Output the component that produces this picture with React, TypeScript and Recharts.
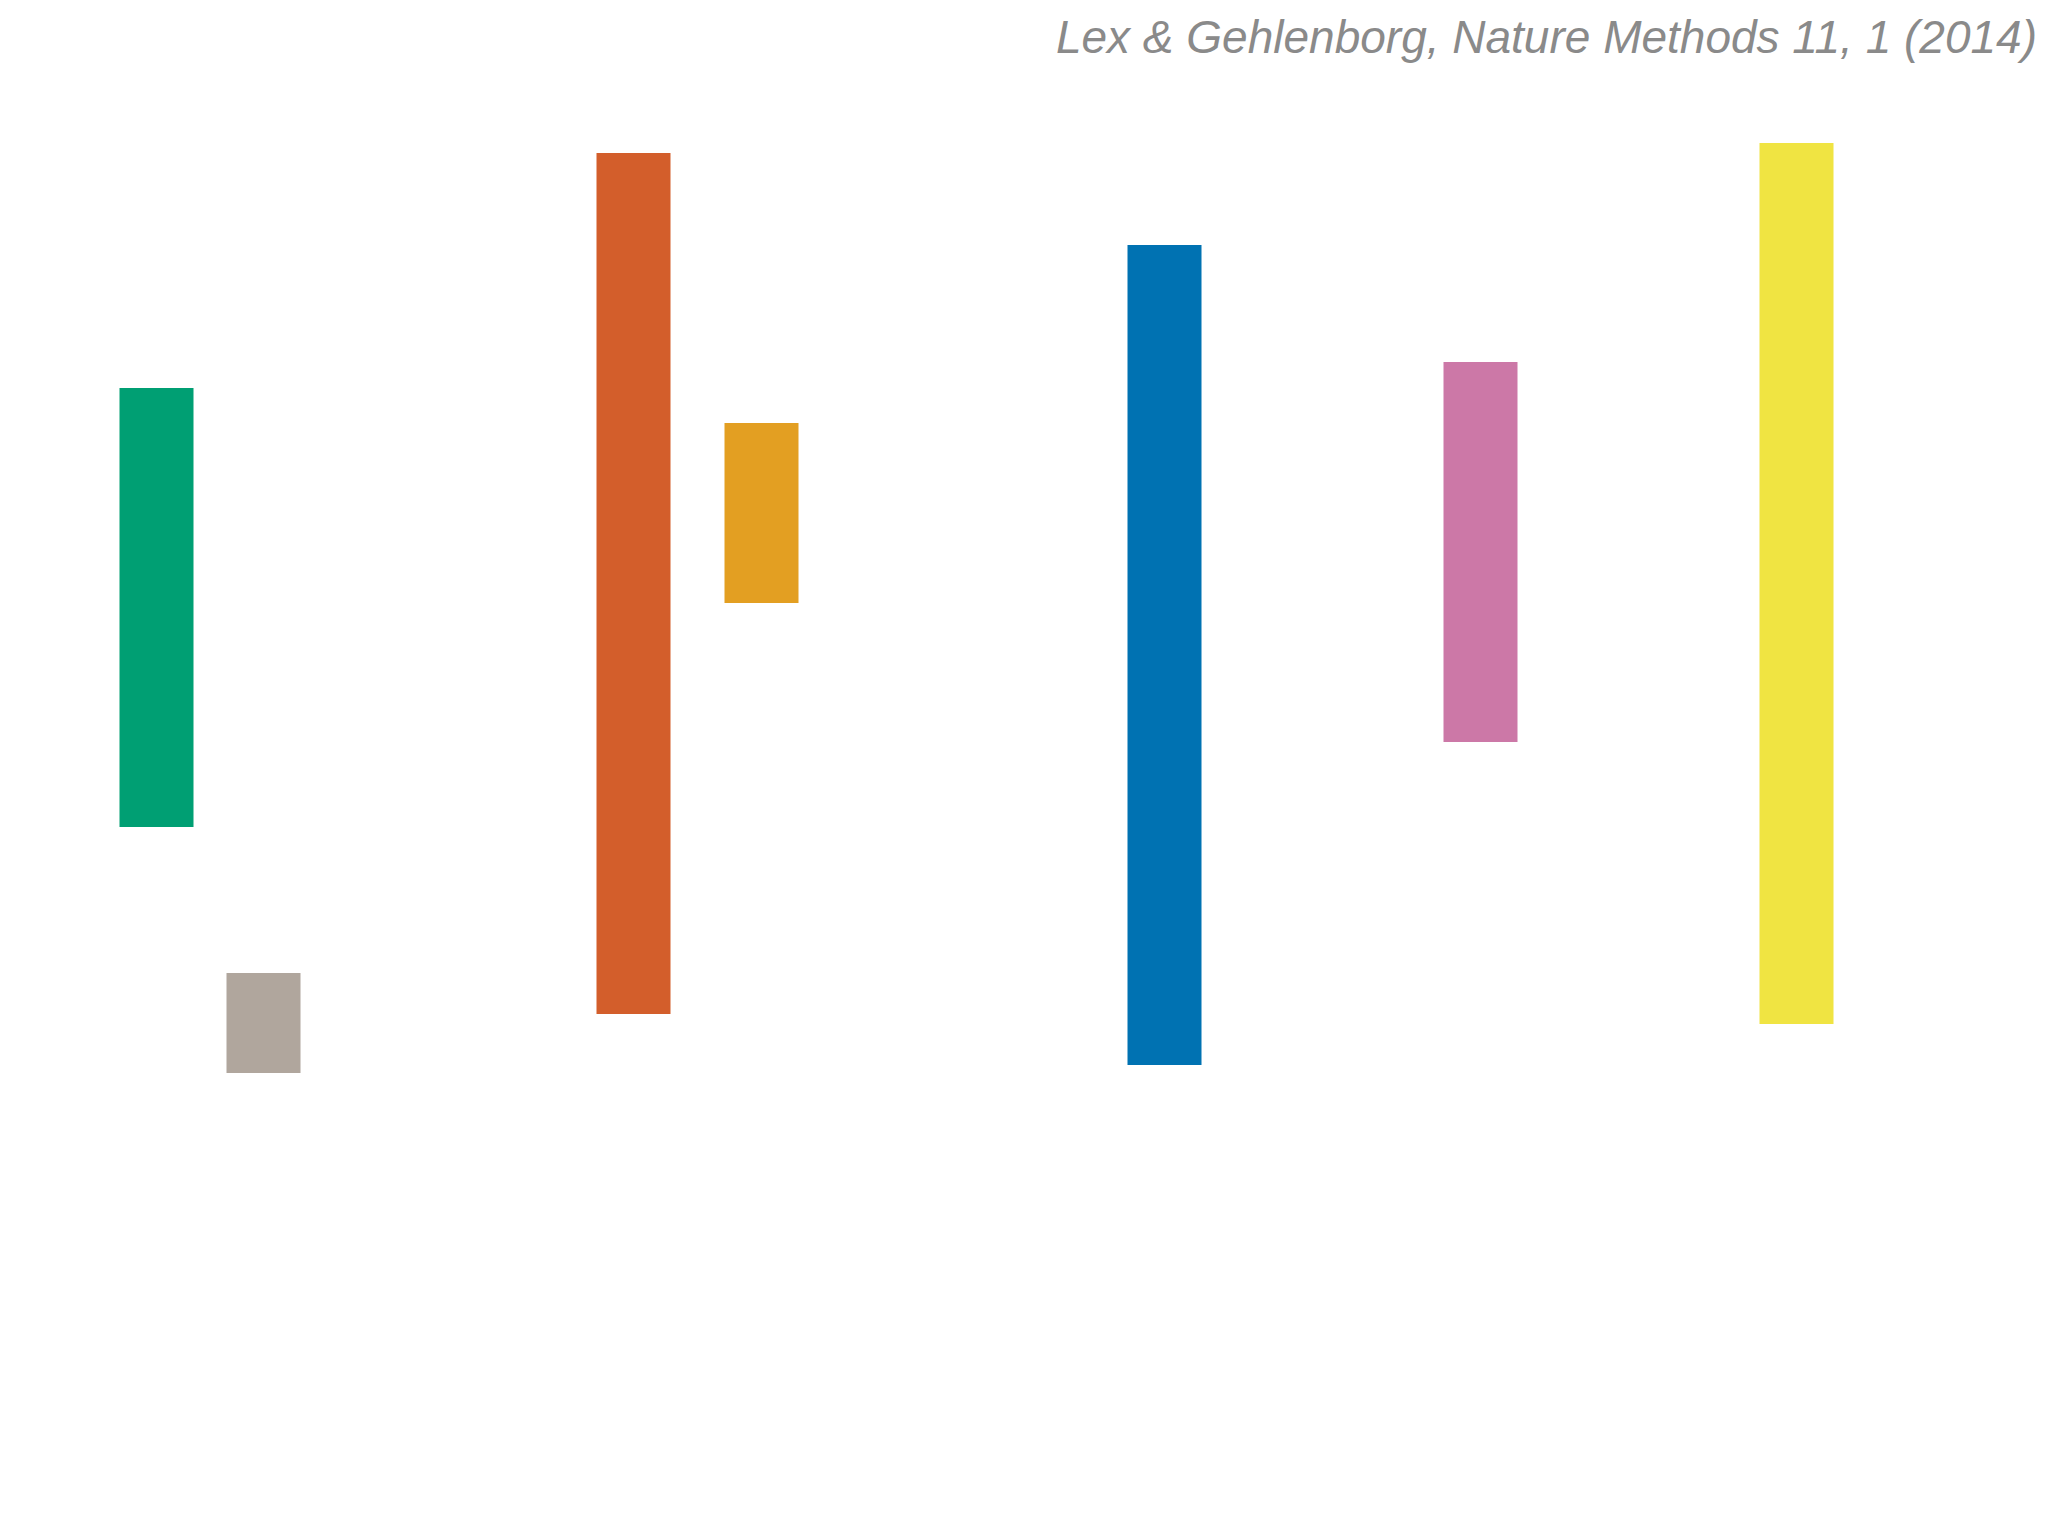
import { BarChart, Bar, XAxis, YAxis, Cell } from 'recharts';

// bar centres along the horizontal scale (0-2048)
const positions = [156, 263, 633, 761, 1164, 1480, 1796];
// bottom and top of each floating bar (0-100 vertical scale)
const lows = [27.3, 2.7, 8.6, 49.7, 3.5, 35.8, 7.6];
const highs = [71.2, 12.7, 94.7, 67.7, 85.5, 73.8, 95.7];
const sets = ['green', 'grey', 'vermillion', 'orange', 'blue', 'pink', 'yellow'];

const COLORS = ['#009F73', '#B0A69D', '#D35E2B', '#E39F22', '#0072B2', '#CC78A7', '#F0E442'];

const data = sets.map((name, i) => ({
  name,
  x: positions[i],
  range: [lows[i], highs[i]],
}));

export default function App() {
  return (
    <div style={{ position: 'absolute', left: 0, top: 0, width: 2048, height: 1536, background: '#fff' }}>
      <div
        style={{
          position: 'absolute',
          right: 11,
          top: 10,
          fontFamily: '"Liberation Sans", Arial, sans-serif',
          fontStyle: 'italic',
          fontSize: 46,
          color: '#8a8a8a',
          whiteSpace: 'nowrap',
        }}
      >
        Lex &amp; Gehlenborg, Nature Methods 11, 1 (2014)
      </div>
      <BarChart
        width={2048}
        height={1536}
        data={data}
        margin={{ top: 100, right: 0, bottom: 436, left: 0 }}
      >
        <XAxis dataKey="x" type="number" domain={[0, 2048]} ticks={[0, 1024, 2048]} hide />
        <YAxis type="number" domain={[0, 100]} hide />
        <Bar dataKey="range" barSize={74} isAnimationActive={false}>
          {data.map((entry, index) => (
            <Cell key={`cell-${index}`} fill={COLORS[index]} />
          ))}
        </Bar>
      </BarChart>
    </div>
  );
}
